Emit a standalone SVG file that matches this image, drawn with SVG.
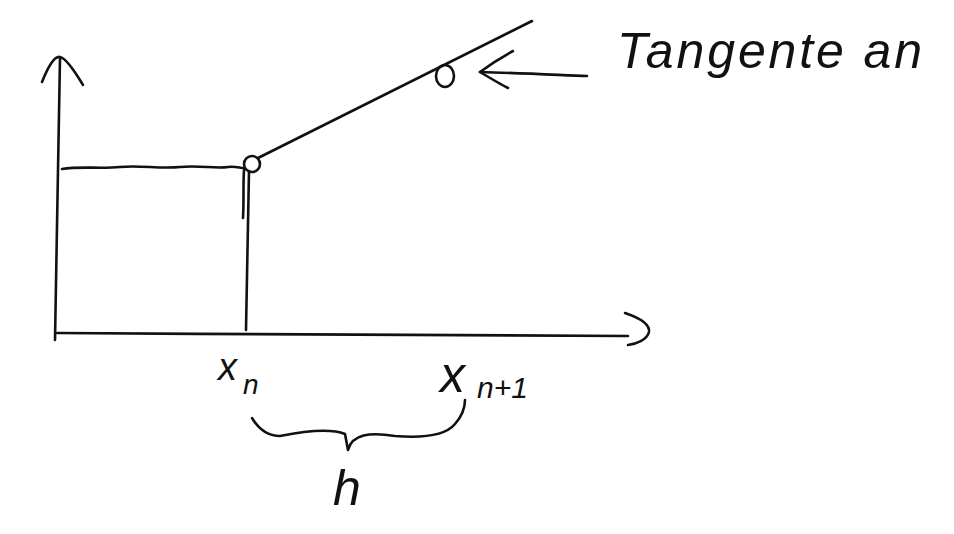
<svg xmlns="http://www.w3.org/2000/svg" width="954" height="534" viewBox="0 0 954 534">
<style>
.s{fill:none;stroke:#111;stroke-width:2.6;stroke-linecap:round;stroke-linejoin:round}
.t{font-family:"Liberation Sans","DejaVu Sans",sans-serif;fill:#111;font-style:italic}
</style>
<rect width="954" height="534" fill="#fff"/>
<g id="axes">
<path class="s" d="M60,58 C58,150 57,250 55,340"/>
<path class="s" d="M42,82 C50,62 56,56 60,57 C66,58 74,70 83,85"/>
<path class="s" d="M57,333 C250,334 450,336 628,336"/>
<path class="s" d="M625,313 C640,318 650,324 649,332 C647,340 636,344 628,345"/>
</g>
<g id="connectors">
<path class="s" d="M62,169 C80,166 100,169 120,167 C140,165 160,169 180,167 C200,165 215,169 228,167 C235,166 240,168 244,168"/>
<path class="s" d="M249,171 C248,220 247,280 246,330"/>
<path class="s" d="M244,170 C243,185 244,200 243,218"/>
<path class="s" d="M258,158 L532,21"/>
<path class="s" d="M587,76 C560,75 520,73 480,72"/>
<path class="s" d="M513,51 C500,58 488,66 480,72 C490,78 500,84 508,88"/>
<path class="s" d="M252,418 C258,428 266,436 280,436 C300,432 330,428 345,434 L348,450 C352,434 370,432 395,436 C420,438 445,436 455,424 C462,416 465,408 465,400"/>
</g>
<g id="point-xn">
<ellipse class="s" cx="252" cy="164" rx="8" ry="8"/>
</g>
<g id="point-xn1">
<ellipse class="s" cx="445" cy="76" rx="9" ry="11"/>
</g>
<g id="label-tangente">
<text class="t" x="617" y="68" font-size="50" textLength="305" lengthAdjust="spacing">Tangente an</text>
</g>
<g id="label-xn">
<text class="t" x="218" y="380" font-size="38">x<tspan font-size="28" dx="6" dy="14">n</tspan></text>
</g>
<g id="label-xn1">
<text class="t" x="440" y="392" font-size="50">x<tspan font-size="30" dx="12" dy="6">n+1</tspan></text>
</g>
<g id="label-h">
<text class="t" x="333" y="505" font-size="50">h</text>
</g>
</svg>
